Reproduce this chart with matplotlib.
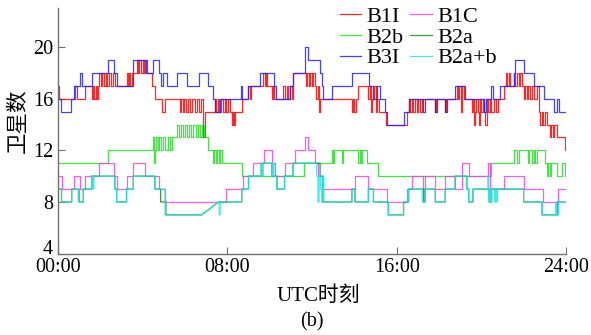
import matplotlib
matplotlib.use("Agg")
import matplotlib.pyplot as plt

plt.rcParams['font.family'] = ['Liberation Serif', 'Noto Sans CJK SC']
plt.rcParams['axes.unicode_minus'] = False

# ---------------- data (hour of day, satellite count) ----------------
B1I = [(0,17),(0.05,16),(0.80,17),(0.88,16),(1.28,17),(1.59,16),(1.65,17),(1.72,16),(1.78,17),
       (1.85,16),(1.90,17),(1.95,18),(2.02,17),(2.10,18),(2.18,17),(2.26,18),(2.34,17),(2.42,18),
       (2.50,17),(2.58,18),(2.69,17),(3.24,18),(3.30,17),(3.36,18),(3.42,17),(3.48,18),(3.72,19),
       (3.78,18),(3.84,19),(3.92,18),(4.00,19),(4.06,18),(4.12,19),(4.19,18),(4.43,17),(4.58,16),
       (4.90,15),(5.06,16),(5.77,15),(5.83,16),(5.90,15),(5.97,16),(6.05,15),(6.15,16),(6.25,15),
       (6.35,16),(6.45,15),(6.55,16),(6.65,15),(6.75,16),(6.87,13),(6.93,15),(7.40,16),(7.46,15),
       (7.55,16),(7.62,15),(7.70,16),(7.80,15),(7.88,16),(7.95,15),(8.05,16),(8.13,15),(8.20,14),
       (8.25,15),(8.32,14),(8.36,15),(8.68,16),(8.99,17),(9.05,16),(9.10,17),(9.70,18),(9.76,17),
       (9.82,18),(9.88,17),(10.10,16),(10.14,17),(10.20,16),(10.65,17),(10.72,16),(10.80,17),
       (10.88,16),(10.96,17),(11.04,16),(11.12,18),(11.70,17),(11.76,18),(11.85,17),(11.92,18),
       (12.00,17),(12.06,18),(12.14,17),(12.20,16),(12.26,17),(12.32,15),(12.38,16),(13.88,15),
       (13.94,16),(14.00,15),(14.08,16),(14.19,17),(14.66,16),(14.72,17),(14.78,15),(14.84,16),
       (14.92,17),(15.00,15),(15.06,16),(15.14,15),(15.50,14),(16.48,15),(16.56,16),(16.63,15),
       (16.70,16),(16.78,15),(16.86,16),(16.94,15),(17.02,16),(17.10,15),(17.18,16),(17.82,15),
       (17.86,16),(18.29,15),(18.34,16),(18.84,17),(18.90,16),(18.96,17),(19.02,15),(19.06,17),
       (19.16,16),(19.55,15),(19.60,16),(19.65,14),(19.70,15),(19.76,16),(19.82,15),(19.88,14),
       (19.94,16),(20.00,15),(20.06,16),(20.12,15),(20.18,14),(20.24,16),(20.30,15),(20.38,16),
       (20.45,15),(20.57,16),(20.70,15),(20.76,16),(21.05,17),(21.15,18),(21.20,17),(21.30,18),
       (21.36,17),(21.52,18),(21.60,17),(21.68,18),(21.76,17),(21.84,18),(21.92,17),(22.00,16),
       (22.06,17),(22.14,16),(22.22,17),(22.30,16),(22.40,17),(22.50,16),(22.60,17),(22.70,15),
       (22.78,14),(22.84,15),(22.92,14),(23.00,15),(23.10,14),(23.25,13),(23.30,14),(23.36,13),
       (23.41,14),(23.57,13),(23.96,12)]

B2b = [(0,11),(2.38,12),(4.50,13),(4.55,11),(4.60,12),(4.65,13),(4.71,12),(4.78,13),(4.85,12),
       (4.95,13),(5.05,12),(5.20,13),(5.30,12),(5.37,13),(5.60,14),(5.70,13),(5.80,14),(5.90,13),
       (6.00,14),(6.10,13),(6.20,14),(6.30,13),(6.40,14),(6.50,13),(6.60,14),(6.70,13),(6.80,14),
       (6.88,13),(7.10,12),(7.30,11),(7.35,12),(7.45,11),(7.50,12),(7.60,11),(7.65,12),(7.73,11),
       (8.68,10),(11.60,11),(12.93,12),(13.00,11),(13.05,12),(13.41,11),(13.48,12),(14.19,11),
       (14.25,12),(14.30,11),(14.35,12),(14.60,11),(15.13,10),(20.45,11),(21.52,12),(21.70,11),
       (21.76,12),(22.20,11),(22.26,12),(22.40,11),(22.46,12),(22.55,11),(22.60,12),(23.02,11),
       (23.10,10),(23.16,11),(23.25,10),(23.30,11),(23.57,10),(23.80,11),(23.96,10)]

B3I = [(0,16),(0.14,15),(0.61,16),(0.76,17),(1.04,18),(1.13,17),(1.61,18),(2.38,19),(2.66,18),
       (2.77,17),(3.53,19),(4.14,18),(4.50,19),(4.76,18),(4.85,17),(4.98,18),(5.14,17),(5.64,18),
       (6.08,17),(6.68,18),(7.10,17),(7.34,16),(7.42,15),(7.66,16),(8.65,17),(8.71,16),(8.99,17),
       (9.55,18),(10.21,17),(10.30,16),(10.96,17),(11.12,18),(11.67,20),(11.83,19),(12.38,18),
       (12.46,17),(12.54,16),(12.93,17),(13.88,18),(14.70,17),(14.90,16),(15.06,17),(15.22,16),
       (15.45,15),(15.55,14),(16.32,15),(16.56,16),(17.26,15),(17.34,16),(17.82,15),(17.89,16),
       (18.29,15),(18.37,16),(18.76,17),(19.24,16),(20.10,15),(20.20,16),(20.45,17),(20.55,16),
       (20.89,17),(21.52,18),(21.60,19),(22.00,18),(22.50,17),(22.94,16),(23.41,15),(23.57,16),
       (23.65,15)]

B1C = [(0,10),(0.20,9),(0.74,10),(1.04,9),(1.30,10),(1.95,11),(2.66,10),(2.77,9),(3.25,10),
       (3.56,11),(4.13,10),(4.77,9),(5.06,8),(7.93,9),(8.72,10),(9.23,11),(9.75,12),(10.10,11),
       (10.26,10),(10.73,11),(11.20,12),(11.67,13),(11.83,12),(12.14,11),(12.30,10),(12.46,9),
       (14.03,10),(14.66,9),(15.53,8),(16.50,9),(16.72,10),(17.26,9),(17.34,10),(17.82,9),
       (18.29,10),(18.76,9),(19.08,11),(19.39,10),(20.33,11),(20.41,9),(21.05,10),(21.99,9),
       (22.90,8),(23.60,9)]

B2a = [(0,9),(0.17,8),(0.65,9),(1.00,8),(1.20,9),(1.59,10),(2.69,9),(2.77,8),(3.24,9),(3.56,10),
       (4.58,9),(4.85,8),(5.10,7),(6.79,7),(7.58,8),(8.68,9),(9.00,10),(9.60,11),(10.10,10),
       (10.34,9),(10.70,10),(11.10,11),(12.38,10),(12.50,8),(13.88,9),(14.03,8),(14.66,9),
       (14.90,8),(15.60,7),(16.32,8),(16.56,9),(17.27,8),(17.34,9),(17.82,8),(18.29,9),(18.76,10),
       (19.31,9),(19.40,8),(19.60,9),(20.38,8),(20.48,9),(21.99,8),(22.86,7),(23.60,8)]

B2ab = [(0,9),(0.17,8),(0.65,9),(0.96,8),(1.20,9),(1.59,10),(1.65,9),(1.70,10),(2.69,9),(2.77,8),
        (3.24,9),(3.56,10),(4.58,9),(5.06,7),(6.79,7),(7.58,8),(7.62,7),(7.66,8),(8.68,9),(9.00,10),
        (9.60,11),(9.65,10),(9.70,11),(10.10,10),(10.15,11),(10.20,10),(10.34,9),(10.70,10),
        (11.10,11),(12.22,10),(12.28,8),(12.33,10),(12.40,9),(12.46,8),(12.50,10),(12.56,8),
        (13.88,9),(14.03,8),(14.66,9),(14.90,8),(15.60,7),(16.32,8),(16.56,9),(17.20,8),(17.34,9),
        (17.82,8),(18.29,9),(18.76,10),(19.31,9),(19.40,8),(19.60,9),(20.30,10),(20.34,8),
        (20.38,9),(20.42,8),(20.48,9),(20.60,8),(20.66,9),(20.70,8),(20.76,9),(21.99,8),
        (22.86,7),(23.50,8),(23.55,7),(23.64,8)]

# times where the record has a data gap (line joins straight across)
GAP_TIMES = [7.58]

labels = ['B1I', 'B2b', 'B3I', 'B1C', 'B2a', 'B2a+b']
series = [B1I, B2b, B3I, B1C, B2a, B2ab]
colors = ['#ff0000', '#22e022', '#2020ff', '#f040f0', '#1a8a1a', '#20e6e6']

x_ticks = [0, 8, 16, 24]
x_ticklabels = ['00:00', '08:00', '16:00', '24:00']
y_ticks = [4, 8, 12, 16, 20]


def step_xy(pairs, end=24.0, gaps=()):
    t = [p[0] for p in pairs]
    v = [p[1] for p in pairs]
    xs, ys = [t[0]], [v[0]]
    for i in range(1, len(t)):
        if t[i] not in gaps:
            xs.append(t[i]); ys.append(v[i - 1])
        xs.append(t[i]); ys.append(v[i])
    xs.append(end); ys.append(v[-1])
    return xs, ys


fig = plt.figure(figsize=(5.91, 3.35), dpi=100)
ax = fig.add_axes([0.098, 0.243, 0.860, 0.732])

for lab, s, c in zip(labels, series, colors):
    xs, ys = step_xy(s, gaps=GAP_TIMES)
    ax.plot(xs, ys, color=c, lw=0.9, label=lab, alpha=0.85)

ax.set_xlim(0, 24)
ax.set_ylim(4, 23)
ax.set_xticks(x_ticks)
ax.set_xticklabels(x_ticklabels)
ax.set_yticks(y_ticks)
for sp in ['top', 'right']:
    ax.spines[sp].set_visible(False)
for sp in ['left', 'bottom']:
    ax.spines[sp].set_color('#707070')
    ax.spines[sp].set_linewidth(1.0)
ax.tick_params(direction='in', length=5, width=0.8, color='#707070', labelsize=14.5, pad=3.5)
ax.get_yticklabels()[0].set_va('baseline')

ax.set_xlabel('UTC时刻', fontsize=15)
ax.xaxis.set_label_coords(0.513, -0.135)
ax.set_ylabel('卫星数', fontsize=15.5)
ax.yaxis.set_label_coords(-0.057, 0.54)
fig.text(0.528, 0.04, '(b)', ha='center', va='center', fontsize=14.5)

ax.legend(ncol=2, frameon=False, loc='upper left', bbox_to_anchor=(340 / 591, 0.98),
          bbox_transform=fig.transFigure,
          fontsize=16, handlelength=0.95, handletextpad=0.25, labelspacing=0.0,
          columnspacing=0.3, borderaxespad=0.0, borderpad=0.0)

fig.savefig('out.png', dpi=100)
